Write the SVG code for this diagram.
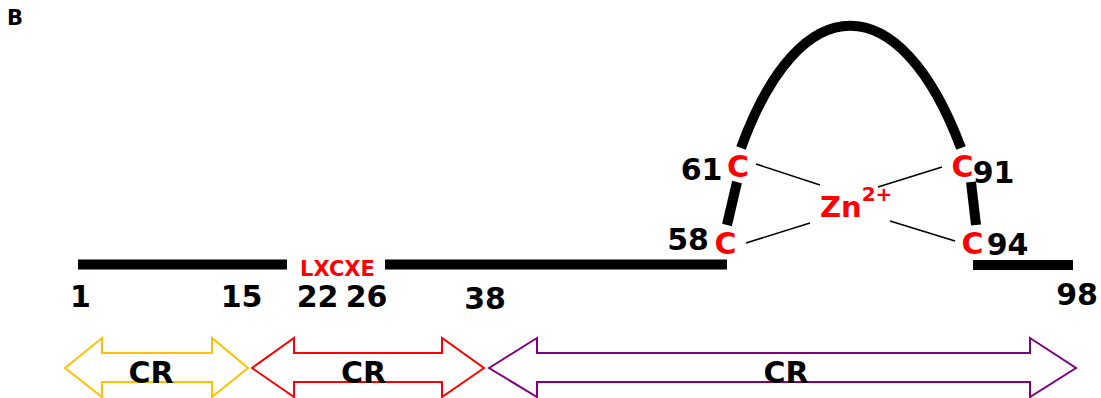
<svg xmlns="http://www.w3.org/2000/svg" width="1101" height="398" viewBox="0 0 1101 398">
<style>
text{font-family:"DejaVu Sans","Verdana",sans-serif;font-weight:bold}
.num{font-size:30px;fill:#000;text-anchor:middle}
.c{font-size:30px;fill:#FF0000;text-anchor:middle}
.cr{font-size:30px;fill:#000;text-anchor:middle}
.bb{fill:#000}
.thick{fill:none;stroke:#000;stroke-width:10}
.thin{stroke:#000;stroke-width:1.6}
.arr{fill:#fff;stroke-width:2}
</style>
<text x="7" y="25" font-size="21" fill="#000">B</text>
<g id="backbone">
<rect class="bb" x="78" y="259.5" width="209" height="10"/>
<rect class="bb" x="385" y="259.5" width="342" height="10"/>
<rect class="bb" x="973" y="260" width="100" height="10"/>
<path class="thick" d="M741,148 C800,-15 900,-15 961,148"/>
<path class="thick" d="M737,182 L727,225"/>
<path class="thick" d="M971,182 L976,225"/>
</g>
<g id="connectors">
<line class="thin" x1="756" y1="164" x2="820" y2="185"/>
<line class="thin" x1="878" y1="187" x2="942" y2="167"/>
<line class="thin" x1="746" y1="243" x2="810" y2="223"/>
<line class="thin" x1="890" y1="221" x2="955" y2="241"/>
</g>
<g id="labels">
<text class="num" x="80.5" y="307">1</text>
<text class="num" x="241.5" y="307">15</text>
<text class="num" x="317.5" y="307">22</text>
<text class="num" x="366.5" y="307">26</text>
<text class="num" x="485" y="309">38</text>
<text class="num" x="1077" y="305">98</text>
<text class="num" x="688" y="250">58</text>
<text class="num" x="701.5" y="180">61</text>
<text class="num" x="993.5" y="183">91</text>
<text class="num" x="1007.5" y="255">94</text>
<text x="337.5" y="276" font-size="21" fill="#FF0000" text-anchor="middle">LXCXE</text>
</g>
<g id="cys">
<text class="c" x="738" y="177">C</text>
<text class="c" x="962.5" y="177">C</text>
<text class="c" x="725.5" y="254">C</text>
<text class="c" x="972.5" y="254">C</text>
</g>
<g id="zinc">
<text x="820" y="217" font-size="29" fill="#FF0000">Zn<tspan dy="-16" font-size="20">2+</tspan></text>
</g>
<g id="cr1">
<polygon class="arr" stroke="#FFC000" points="65,368 102,338 102,353 212,353 212,338 248,368 212,397 212,382 102,382 102,397"/>
<text class="cr" x="151" y="383">CR</text>
</g>
<g id="cr2">
<polygon class="arr" stroke="#FF0000" points="252,368 294,338 294,353 442,353 442,338 484,368 442,397 442,382 294,382 294,397"/>
<text class="cr" x="363.5" y="383">CR</text>
</g>
<g id="cr3">
<polygon class="arr" stroke="#800080" points="489,368 537,338 537,353 1030,353 1030,338 1076,368 1030,397 1030,382 537,382 537,397"/>
<text class="cr" x="786" y="383">CR</text>
</g>
</svg>
